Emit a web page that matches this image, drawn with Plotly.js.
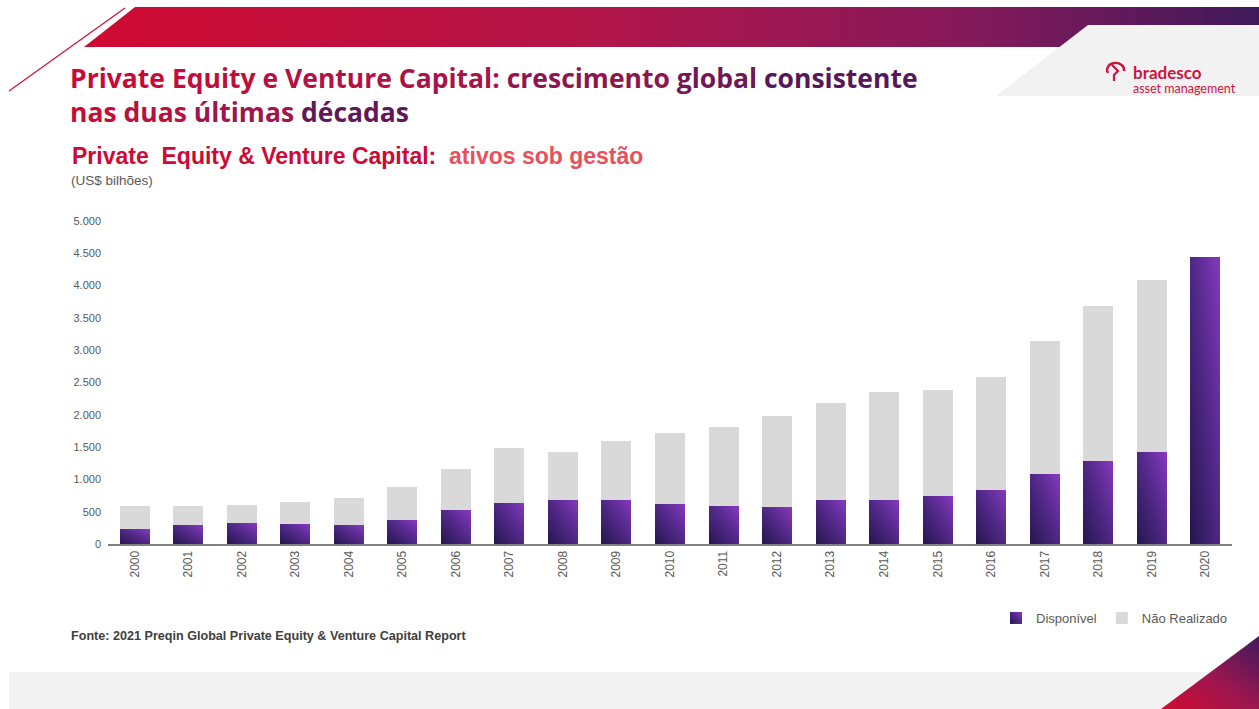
<!DOCTYPE html>
<html>
<head>
<meta charset="utf-8">
<script src="https://cdn.plot.ly/plotly-3.0.1.min.js"></script>
<style>
  html, body { margin: 0; padding: 0; background: #ffffff; }
  #chart { width: 1259px; height: 709px; }
</style>
</head>
<body>
<svg width="0" height="0" style="position:absolute;left:0;top:0">
  <defs>
    <linearGradient id="barGrad" x1="0" y1="1" x2="1" y2="0">
      <stop offset="0" stop-color="#25164e"/>
      <stop offset="0.55" stop-color="#53298a"/>
      <stop offset="1" stop-color="#8639bf"/>
    </linearGradient>
  </defs>
</svg>
<div id="chart"></div>
<script>
// ---------- data ----------
const years = ['2000','2001','2002','2003','2004','2005','2006','2007','2008','2009','2010',
               '2011','2012','2013','2014','2015','2016','2017','2018','2019','2020'];
const disponivel = [225, 287, 318, 303, 287, 365, 520, 632, 678, 678, 616,
                    585, 570, 678, 678, 745, 838, 1086, 1288, 1428, 4439];
const naoRealizado = [357, 295, 280, 341, 419, 512, 636, 853, 745, 916, 1102,
                      1226, 1412, 1506, 1677, 1645, 1754, 2064, 2390, 2654, null];
const yTickVals = [0, 500, 1000, 1500, 2000, 2500, 3000, 3500, 4000, 4500, 5000];
const yTickText = ['0', '500', '1.000', '1.500', '2.000', '2.500', '3.000', '3.500', '4.000', '4.500', '5.000'];
const seriesNames = ['Disponível', 'Não Realizado'];
const titleLines = ['Private Equity e Venture Capital: crescimento global consistente',
                    'nas duas últimas décadas'];

// ---------- geometry helpers (pixel -> paper) ----------
const W = 1259, H = 709;
const M = { l: 108, r: 27, t: 221, b: 165 };
const PW = W - M.l - M.r, PH = H - M.t - M.b;
const px = x => (x - M.l) / PW;
const py = y => (H - M.b - y) / PH;

// ---------- red -> purple gradient colouring of the title words ----------
const C0 = [204, 10, 51], CM = [163, 21, 75], C1 = [70, 25, 94];
function mix(t) {
  const a = t < 0.5 ? C0 : CM, b = t < 0.5 ? CM : C1;
  const u = t < 0.5 ? t / 0.5 : (t - 0.5) / 0.5;
  const c = a.map((v, i) => Math.round(v + (b[i] - v) * u));
  return 'rgb(' + c.join(',') + ')';
}
function gradLine(line) {
  const words = line.split(' ');
  let pos = 0;
  return words.map(w => {
    const t = (pos + w.length / 2) / line.length;
    pos += w.length + 1;
    return '<span style="color:' + mix(t) + '">' + w + '</span>';
  }).join(' ');
}

// ---------- decoration (header band, logo panel, footer) ----------
const deco = `<svg xmlns="http://www.w3.org/2000/svg" width="${W}" height="${H}" viewBox="0 0 ${W} ${H}" preserveAspectRatio="none">
<defs>
<linearGradient id="hb" x1="0" y1="0" x2="1" y2="0">
<stop offset="0" stop-color="#cf0a31"/><stop offset="0.45" stop-color="#b0154a"/><stop offset="0.75" stop-color="#86195a"/><stop offset="1" stop-color="#3f1a5a"/>
</linearGradient>
<linearGradient id="tri" x1="1" y1="0" x2="0" y2="1">
<stop offset="0" stop-color="#3e1a5c"/><stop offset="0.5" stop-color="#9a1650"/><stop offset="1" stop-color="#d00a30"/>
</linearGradient>
</defs>
<polygon points="135,7 1259,7 1259,47 84,47" fill="url(#hb)"/>
<line x1="125" y1="8" x2="9" y2="91" stroke="#d0143c" stroke-width="1.3"/>
<polygon points="1088,25 1259,25 1259,96 996,96" fill="#f2f2f2"/>
<rect x="9" y="672" width="1250" height="37" fill="#f2f2f2"/>
<polygon points="1259,636 1259,709 1161,709" fill="url(#tri)"/>
<path d="M1108,73 A8.5,7 0 1 1 1124,71" stroke="#cc1440" stroke-width="2.4" fill="none"/>
<path d="M1112,65 L1118,71 L1114,75 L1114,81" stroke="#cc1440" stroke-width="2.2" fill="none"/>
</svg>`;

// ---------- traces ----------
const traces = [
  {
    type: 'bar', name: seriesNames[0], x: years, y: disponivel,
    marker: { color: '#4d2882', line: { width: 0 } },
    hoverinfo: 'x+y+name'
  },
  {
    type: 'bar', name: seriesNames[1], x: years, y: naoRealizado,
    marker: { color: '#d9d9d9', line: { width: 0 } },
    hoverinfo: 'x+y+name'
  }
];

const titleFont = '"Open Sans", Lato, sans-serif';
const logoFont = 'Lato, "Open Sans", sans-serif';
const arial = '"Liberation Sans", Arial, sans-serif';

const annotations = [
  { text: titleLines.map(gradLine).join('<br>'),
    x: px(68), y: py(95), xanchor: 'left', yanchor: 'middle',
    font: { family: titleFont, size: 26.5, color: '#a3154b', weight: 700 } },
  { text: '<b>Private\u00a0 Equity & Venture Capital:\u00a0 <span style="color:#e8505b">ativos sob gestão</span></b>',
    x: px(70), y: py(156), xanchor: 'left', yanchor: 'middle',
    font: { family: arial, size: 23, color: '#cc0a35' } },
  { text: '(US$ bilhões)',
    x: px(69), y: py(181), xanchor: 'left', yanchor: 'middle',
    font: { family: arial, size: 13.5, color: '#595959' } },
  { text: '<b>Fonte: 2021 Preqin Global Private Equity & Venture Capital Report</b>',
    x: px(69), y: py(636), xanchor: 'left', yanchor: 'middle',
    font: { family: arial, size: 12.6, color: '#404040' } },
  { text: '<b>bradesco</b>',
    x: px(1131), y: py(72), xanchor: 'left', yanchor: 'middle',
    font: { family: logoFont, size: 17, color: '#cc1440' } },
  { text: 'asset management',
    x: px(1131), y: py(89), xanchor: 'left', yanchor: 'middle',
    font: { family: logoFont, size: 12.5, color: '#cc1440' } }
].map(a => Object.assign({ xref: 'paper', yref: 'paper', showarrow: false, align: 'left' }, a));

const layout = {
  width: W, height: H,
  margin: M,
  paper_bgcolor: '#ffffff',
  plot_bgcolor: 'rgba(0,0,0,0)',
  barmode: 'stack',
  bargap: 0.44,
  showlegend: true,
  legend: {
    orientation: 'h', traceorder: 'normal',
    x: px(1233), xanchor: 'right', y: py(618), yanchor: 'middle',
    font: { family: arial, size: 13, color: '#595959' },
    itemwidth: 30, bgcolor: 'rgba(0,0,0,0)'
  },
  xaxis: {
    type: 'category', range: [-0.5, 20.5],
    showline: true, linecolor: '#808080', linewidth: 2,
    showgrid: false, zeroline: false,
    ticks: '', tickangle: -90,
    tickfont: { family: arial, size: 12, color: '#595959' },
    fixedrange: true
  },
  yaxis: {
    range: [0, 5000], tickvals: yTickVals, ticktext: yTickText,
    showgrid: false, zeroline: false, showline: false,
    ticks: '', ticklabelstandoff: 6,
    tickfont: { family: arial, size: 11, color: '#595959' },
    fixedrange: true
  },
  annotations: annotations,
  images: [{
    source: 'data:image/svg+xml;charset=utf-8,' + encodeURIComponent(deco),
    xref: 'paper', yref: 'paper',
    x: px(0), y: py(0), sizex: W / PW, sizey: H / PH,
    xanchor: 'left', yanchor: 'top', sizing: 'stretch', layer: 'below'
  }]
};

Plotly.newPlot('chart', traces, layout, { displayModeBar: false, staticPlot: true }).then(gd => {
  // gradient purple bars
  const bars = gd.querySelectorAll('.barlayer .trace.bars');
  if (bars.length) {
    bars[0].querySelectorAll('.point path').forEach(p => { p.style.fill = 'url(#barGrad)'; });
  }
  const leg = gd.querySelectorAll('.legend .traces');
  if (leg.length) {
    leg[0].querySelectorAll('.legendpoints path').forEach(p => { p.style.fill = 'url(#barGrad)'; });
  }
});
</script>
</body>
</html>
